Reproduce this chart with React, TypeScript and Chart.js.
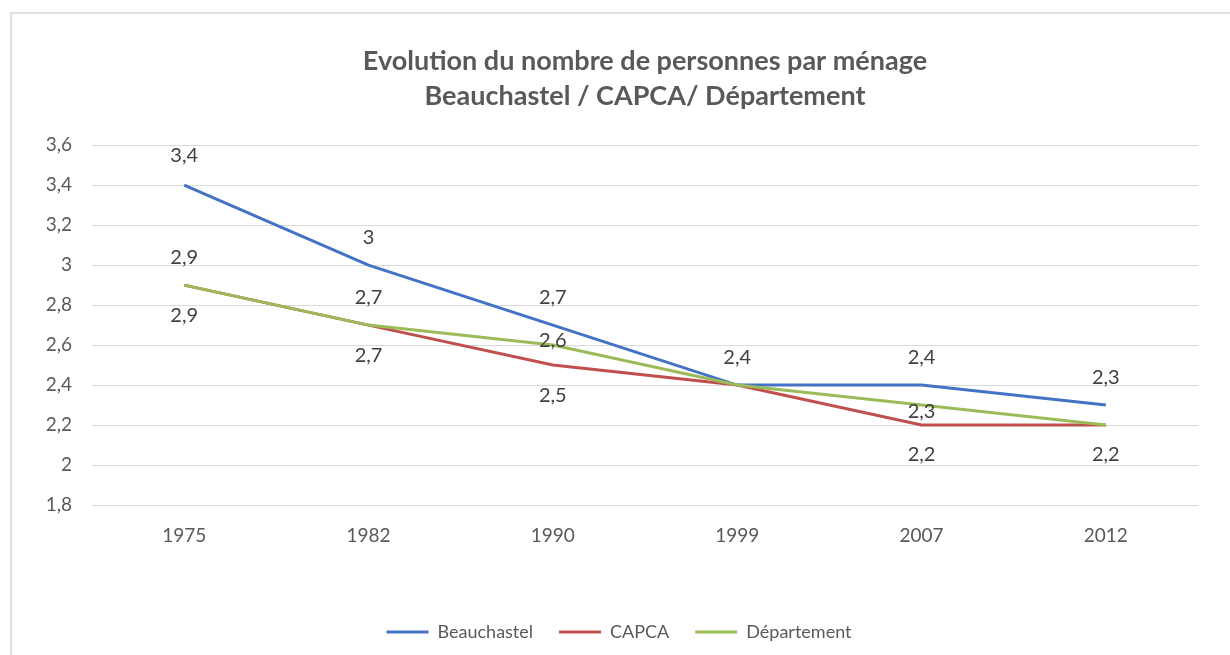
import React, { useEffect, useRef } from "react";
import { Chart, registerables } from "chart.js";

Chart.register(...registerables);

const categories = ["1975", "1982", "1990", "1999", "2007", "2012"];
const beauchastel = [3.4, 3, 2.7, 2.4, 2.4, 2.3];
const capca = [2.9, 2.7, 2.5, 2.4, 2.2, 2.2];
const departement = [2.9, 2.7, 2.6, 2.4, 2.3, 2.2];
const seriesNames = ["Beauchastel", "CAPCA", "Département"];
const titleLines = [
  "Evolution du nombre de personnes par ménage",
  "Beauchastel / CAPCA/ Département",
];

// label placement (pixel offsets from the point; null = no label shown)
const labelOffsets: (number | null)[][] = [
  [-30, -28, -28, -28, -28, -28],
  [30, 30, 30, null, 30, 30],
  [-28, -28, -5, null, 6, null],
];

const fmt = (v: number) => String(Math.round(v * 10) / 10).replace(".", ",");

const FONT = "Lato, 'Open Sans', sans-serif";

const dataLabelPlugin = {
  id: "dataLabels",
  afterDatasetsDraw(chart: any) {
    const ctx = chart.ctx;
    ctx.save();
    ctx.font = `20px ${FONT}`;
    ctx.fillStyle = "#404040";
    ctx.textAlign = "center";
    ctx.textBaseline = "middle";
    chart.data.datasets.forEach((ds: any, di: number) => {
      const meta = chart.getDatasetMeta(di);
      meta.data.forEach((pt: any, i: number) => {
        const off = labelOffsets[di][i];
        if (off === null) return;
        ctx.fillText(fmt(ds.data[i]), pt.x, pt.y + off);
      });
    });
    ctx.restore();
  },
};

export default function App() {
  const ref = useRef<HTMLCanvasElement | null>(null);

  useEffect(() => {
    if (!ref.current) return;
    const colors = ["#4472C4", "#C0504D", "#9BBB59"];
    const values = [beauchastel, capca, departement];
    const chart = new Chart(ref.current, {
      type: "line",
      data: {
        labels: categories,
        datasets: values.map((d, i) => ({
          label: seriesNames[i],
          data: d,
          borderColor: colors[i],
          backgroundColor: colors[i],
          borderWidth: 3,
          pointRadius: 0,
          tension: 0,
          fill: false,
          order: 3 - i,
        })),
      },
      options: {
        animation: false,
        responsive: false,
        devicePixelRatio: 1,
        layout: { padding: { left: 40, right: 32, top: 0, bottom: 4 } },
        plugins: {
          tooltip: { enabled: false },
          title: {
            display: true,
            fullSize: false,
            text: titleLines,
            color: "#595959",
            font: { family: FONT, size: 27, weight: "bold", lineHeight: 1.3 },
            padding: { top: 44, bottom: 31 },
          },
          legend: {
            position: "bottom",
            labels: {
              color: "#595959",
              font: { family: FONT, size: 18 },
              boxWidth: 42,
              boxHeight: 3,
              padding: 26,
              sort: (a: any, b: any) => a.datasetIndex - b.datasetIndex,
              generateLabels: (ch: any) =>
                ch.data.datasets.map((ds: any, i: number) => ({
                  text: ds.label,
                  fillStyle: ds.borderColor,
                  strokeStyle: ds.borderColor,
                  lineWidth: 0,
                  fontColor: "#595959",
                  hidden: false,
                  datasetIndex: i,
                })),
            },
          },
        },
        scales: {
          x: {
            offset: true,
            grid: { display: false, drawTicks: false },
            border: { display: false },
            ticks: {
              color: "#595959",
              font: { family: FONT, size: 19 },
              padding: 19,
              maxRotation: 0,
            },
            afterFit: (s: any) => {
              s.height = 92;
            },
          },
          y: {
            min: 1.8,
            max: 3.6,
            grid: { color: "#d9d9d9", drawTicks: false, lineWidth: 1 },
            border: { display: false },
            ticks: {
              stepSize: 0.2,
              color: "#595959",
              font: { family: FONT, size: 19 },
              padding: 20,
              callback: (v: any) => fmt(Number(v)),
            },
            afterFit: (s: any) => {
              s.width = 52;
            },
          },
        },
      },
      plugins: [dataLabelPlugin],
    });
    return () => chart.destroy();
  }, []);

  return (
    <div
      style={{
        position: "fixed",
        left: 0,
        top: 0,
        width: 1230,
        height: 655,
        background: "#fff",
        overflow: "hidden",
      }}
    >
      <div
        style={{
          position: "absolute",
          left: 10,
          top: 12,
          right: -10,
          bottom: -10,
          border: "2px solid #e0e0e0",
        }}
      />
      <canvas
        ref={ref}
        width={1230}
        height={655}
        style={{ position: "absolute", left: 0, top: 0, width: 1230, height: 655 }}
      />
    </div>
  );
}
